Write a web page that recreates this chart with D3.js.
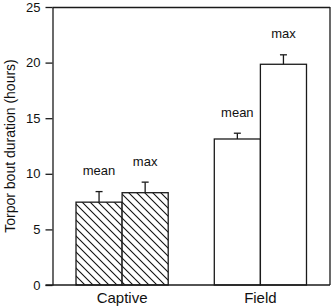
<!DOCTYPE html>
<html><head><meta charset="utf-8">
<script src="https://cdn.jsdelivr.net/npm/d3@7"></script>
<style>
html,body{margin:0;padding:0;background:#fff;}
svg{display:block;font-family:"Liberation Sans",Arial,Helvetica,sans-serif;}
</style></head>
<body><svg id="c" width="332" height="307"></svg>
<script>
const categories = ["Captive", "Field"];
const series = ["mean", "max"];
const meanValues = [7.45, 13.13];
const maxValues = [8.3, 19.85];
const meanErr = [0.95, 0.52];
const maxErr = [0.95, 0.85];
const yTicks = [0, 5, 10, 15, 20, 25];
const yTitle = "Torpor bout duration (hours)";

const data = [];
categories.forEach((c, i) => {
  data.push({cat: c, s: "mean", v: meanValues[i], e: meanErr[i]});
  data.push({cat: c, s: "max", v: maxValues[i], e: maxErr[i]});
});

const svg = d3.select("#c");
const L = 52.5, R = 330, T = 7, B = 285;
const stroke = "#1a1a1a";

const defs = svg.append("defs");
const pat = defs.append("pattern").attr("id", "hatch").attr("patternUnits", "userSpaceOnUse")
  .attr("width", 8).attr("height", 8);
pat.append("rect").attr("width", 8).attr("height", 8).attr("fill", "#fff");
pat.append("path").attr("d", "M-2,-2 L10,10 M-2,6 L2,10 M6,-2 L10,2")
  .attr("stroke", "#111").attr("stroke-width", 1.1);

const x0 = d3.scaleBand().domain(categories).range([L, R]).paddingInner(1/3).paddingOuter(0.17);
const x1 = d3.scaleBand().domain(series).range([0, x0.bandwidth()]);
const y = d3.scaleLinear().domain([0, 25]).range([B, T]);

// frame
svg.append("line").attr("x1", L).attr("x2", R).attr("y1", T + 0.5).attr("y2", T + 0.5).attr("stroke", stroke).attr("stroke-width", 1.3);
svg.append("line").attr("x1", R).attr("x2", R).attr("y1", T).attr("y2", B).attr("stroke", stroke).attr("stroke-width", 1.3);

// bars
const g = svg.append("g");
g.selectAll("rect.bar").data(data).join("rect").attr("class", "bar")
  .attr("x", d => x0(d.cat) + x1(d.s))
  .attr("y", d => y(d.v))
  .attr("width", x1.bandwidth())
  .attr("height", d => B - y(d.v))
  .attr("fill", d => d.cat === "Captive" ? "url(#hatch)" : "#fff")
  .attr("stroke", stroke).attr("stroke-width", 1.3);

// error bars
const cx = d => x0(d.cat) + x1(d.s) + x1.bandwidth() / 2;
g.selectAll("line.err").data(data).join("line").attr("class", "err")
  .attr("x1", cx).attr("x2", cx)
  .attr("y1", d => y(d.v)).attr("y2", d => y(d.v + d.e))
  .attr("stroke", stroke).attr("stroke-width", 1.3);
g.selectAll("line.cap").data(data).join("line").attr("class", "cap")
  .attr("x1", d => cx(d) - 3.5).attr("x2", d => cx(d) + 3.5)
  .attr("y1", d => y(d.v + d.e)).attr("y2", d => y(d.v + d.e))
  .attr("stroke", stroke).attr("stroke-width", 1.3);

// labels above bars
g.selectAll("text.lab").data(data).join("text").attr("class", "lab")
  .attr("x", cx).attr("y", d => y(d.v + d.e) - 16.5)
  .attr("text-anchor", "middle").attr("font-size", 13).attr("fill", "#111")
  .text(d => d.s);

// y axis
const yAxis = d3.axisLeft(y).tickValues(yTicks).tickSize(7).tickSizeOuter(0).tickPadding(5);
const ya = svg.append("g").attr("transform", `translate(${L},0)`).call(yAxis);
ya.select(".domain").attr("stroke", stroke).attr("stroke-width", 1.3);
ya.selectAll(".tick line").attr("stroke", stroke).attr("stroke-width", 1.3);
ya.selectAll(".tick text").attr("font-size", 13).attr("fill", "#111").attr("font-family", "Liberation Sans, Arial, sans-serif");

// bottom line
svg.append("line").attr("x1", L - 7).attr("x2", R).attr("y1", B).attr("y2", B).attr("stroke", stroke).attr("stroke-width", 1.3);

// category labels
svg.selectAll("text.cat").data(categories).join("text").attr("class", "cat")
  .attr("x", d => x0(d) + x0.bandwidth() / 2).attr("y", 303)
  .attr("text-anchor", "middle").attr("font-size", 15).attr("fill", "#111")
  .text(d => d);

// y title
svg.append("text").attr("transform", "translate(15,146) rotate(-90)")
  .attr("text-anchor", "middle").attr("font-size", 14).attr("fill", "#111")
  .text(yTitle);
</script></body></html>
